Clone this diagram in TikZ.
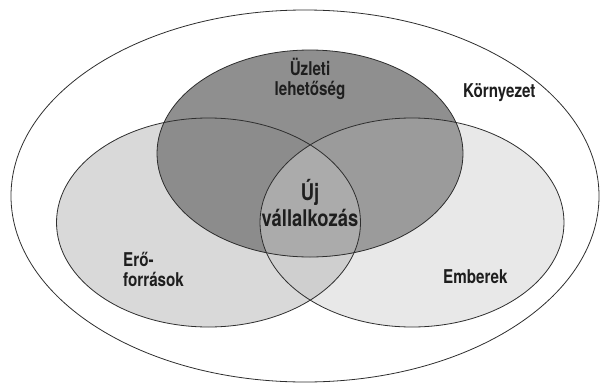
\documentclass[tikz,border=0pt]{standalone}
\usepackage{fontspec}
\newfontfamily\labfont[FakeStretch=0.8]{TeX Gyre Heros}
\definecolor{cL}{HTML}{D9D9D9}
\definecolor{cR}{HTML}{E8E8E8}
\definecolor{cLR}{HTML}{CFCFCF}
\definecolor{cT}{HTML}{8F8F8F}
\definecolor{cTL}{HTML}{8C8C8C}
\definecolor{cTR}{HTML}{9B9B9B}
\definecolor{cC}{HTML}{ABABAB}
\definecolor{edge}{HTML}{2E2E2E}
\definecolor{ink}{HTML}{1E1E1E}
\tikzset{
  rim/.style={draw=edge, line width=0.8pt},
  lab/.style={font=\labfont\bfseries\fontsize{19}{19.5}\selectfont, text=ink, inner sep=0pt},
  biglab/.style={font=\labfont\bfseries\fontsize{23}{26}\selectfont, text=ink, inner sep=0pt},
}
\begin{document}
\begin{tikzpicture}[x=1pt,y=-1pt]
\useasboundingbox (0,0) rectangle (600,383);
\def\outerE{(305,196) ellipse [x radius=294, y radius=186]}
\def\topE{(310,153.5) ellipse [x radius=153, y radius=103.5]}
\def\leftE{(208.5,222.5) ellipse [x radius=152, y radius=104.5]}
\def\rightE{(412,222.5) ellipse [x radius=152, y radius=104.5]}
% fills
\fill[cL] \leftE;
\fill[cR] \rightE;
\begin{scope}\clip \leftE; \fill[cLR] \rightE; \end{scope}
\fill[cT] \topE;
\begin{scope}\clip \topE; \fill[cTL] \leftE; \end{scope}
\begin{scope}\clip \topE; \fill[cTR] \rightE; \end{scope}
\begin{scope}\clip \topE; \clip \leftE; \fill[cC] \rightE; \end{scope}
% outlines
\draw[rim] \outerE;
\draw[rim] \topE;
\draw[rim] \leftE;
\draw[rim] \rightE;
% labels
\node[lab, align=center, anchor=base] (opp) at (310,95) {Üzleti\\lehetőség};
\node[lab, anchor=base west] (env) at (463,97) {Környezet};
\node[lab, align=left, anchor=base west] (res) at (123,286) {Erő-\\források};
\node[lab, anchor=base west] (ppl) at (443,283) {Emberek};
\node[biglab, align=center, anchor=base] (new) at (310,226) {Új\\vállalkozás};
\end{tikzpicture}
\end{document}
